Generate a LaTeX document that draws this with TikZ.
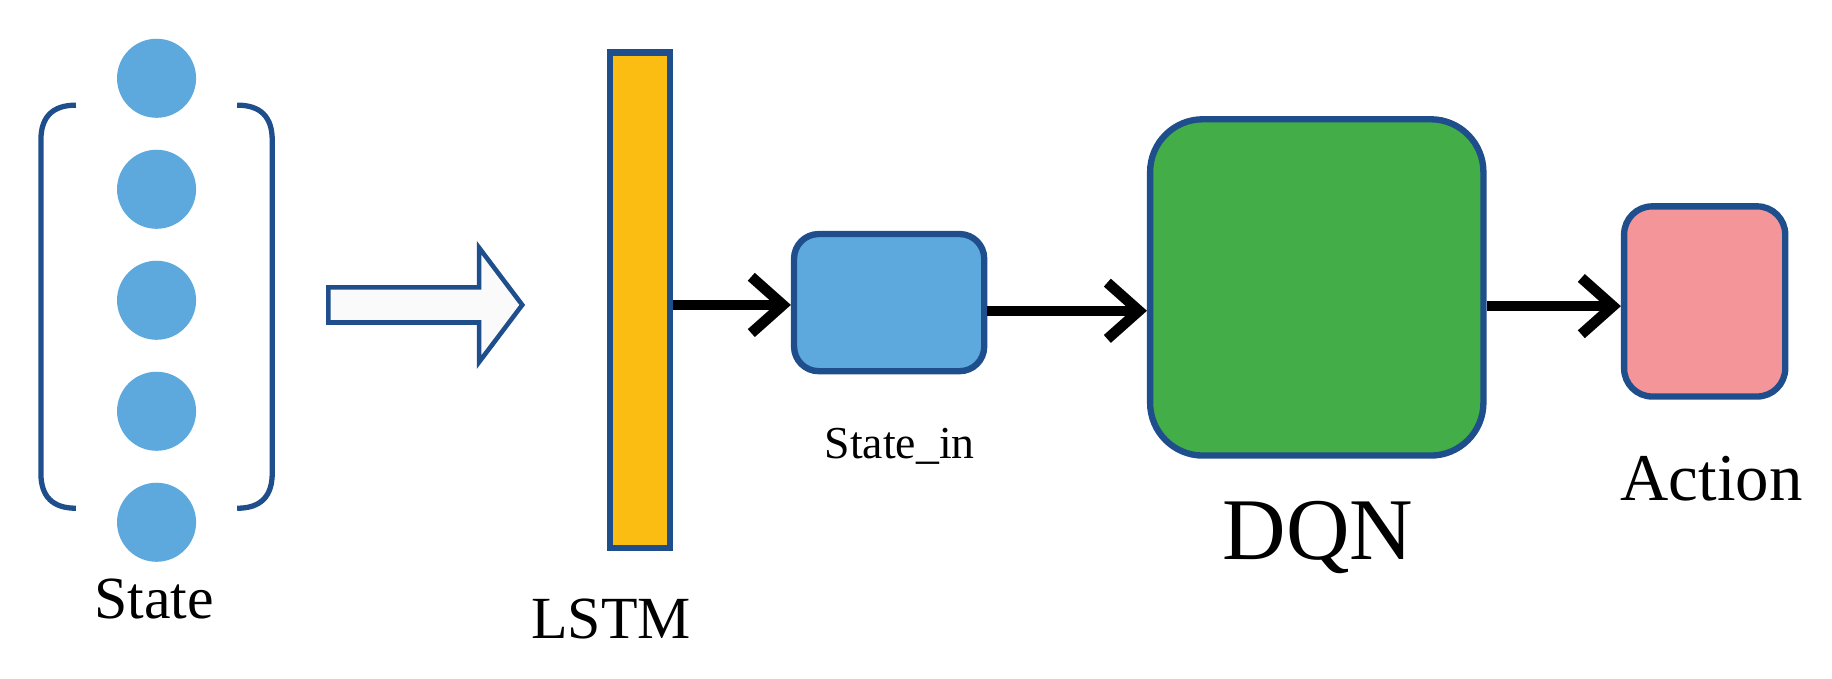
\documentclass[tikz,border=0pt]{standalone}
\usepackage{fontspec}
\setmainfont{Liberation Serif}
\usetikzlibrary{arrows.meta}
\definecolor{cblue}{HTML}{5DA9DD}
\definecolor{edge}{HTML}{1F4E8C}
\definecolor{corange}{HTML}{FBBD12}
\definecolor{cgreen}{HTML}{43AE48}
\definecolor{cpink}{HTML}{F4959A}
\begin{document}
\begin{tikzpicture}[x=0.01168cm,y=-0.01168cm,
  dot/.style={circle,fill=cblue,minimum size=0.79cm,inner sep=0},
  box/.style={draw=edge,line width=1.8pt,rounded corners=#1,inner sep=0},
  conn/.style={line width=3pt,-{Straight Barb[length=9pt,width=16pt,line width=3pt]}},
  lbl/.style={inner sep=0,font=\fontsize{#1}{#1}\selectfont}]
\useasboundingbox (0,0) rectangle (1568,581);
\foreach \i/\y in {1/67,2/162,3/257,4/352,5/447} \node[dot] (c\i) at (134,\y) {};
\draw[edge,line width=1.5pt] (65,90) coordinate (bl1) .. controls (45,90) and (35,100) .. (35,120) -- (35,405) .. controls (35,425) and (45,435) .. (65,435) coordinate (bl2);
\draw[edge,line width=1.5pt] (203,90) coordinate (br1) .. controls (223,90) and (233,100) .. (233,120) -- (233,405) .. controls (233,425) and (223,435) .. (203,435) coordinate (br2);
\node[lbl=17pt] (st) at (132,513) {State};
\draw[edge,fill=gray!4,line width=1.3pt] (281,246) coordinate (ha) -- (410,246) -- (410,212) -- (447,261) -- (410,310) -- (410,276) -- (281,276) -- cycle;
\node[box=0pt,fill=corange,minimum width=0.6cm,minimum height=4.95cm] (lstm) at (548,257) {};
\node[lbl=17pt] (ll) at (523,530) {LSTM};
\node[box=7pt,fill=cblue,minimum width=1.9cm,minimum height=1.37cm] (si) at (761,259) {};
\node[lbl=13pt] (sil) at (770,382) {State\_in};
\node[box=15pt,fill=cgreen,minimum width=3.33cm,minimum height=3.36cm] (dqn) at (1127,246) {};
\node[lbl=25pt] (dl) at (1128,460) {DQN};
\node[box=8pt,fill=cpink,minimum width=1.61cm,minimum height=1.9cm] (act) at (1459,258) {};
\node[lbl=19pt] (al) at (1465,410) {Action};
\draw[conn] (lstm.east |- 0,261) -- (si.west |- 0,261);
\draw[conn] (si.east |- 0,266) -- (dqn.west |- 0,266);
\draw[conn] (dqn.east |- 0,262) -- (act.west |- 0,262);
\end{tikzpicture}
\end{document}
